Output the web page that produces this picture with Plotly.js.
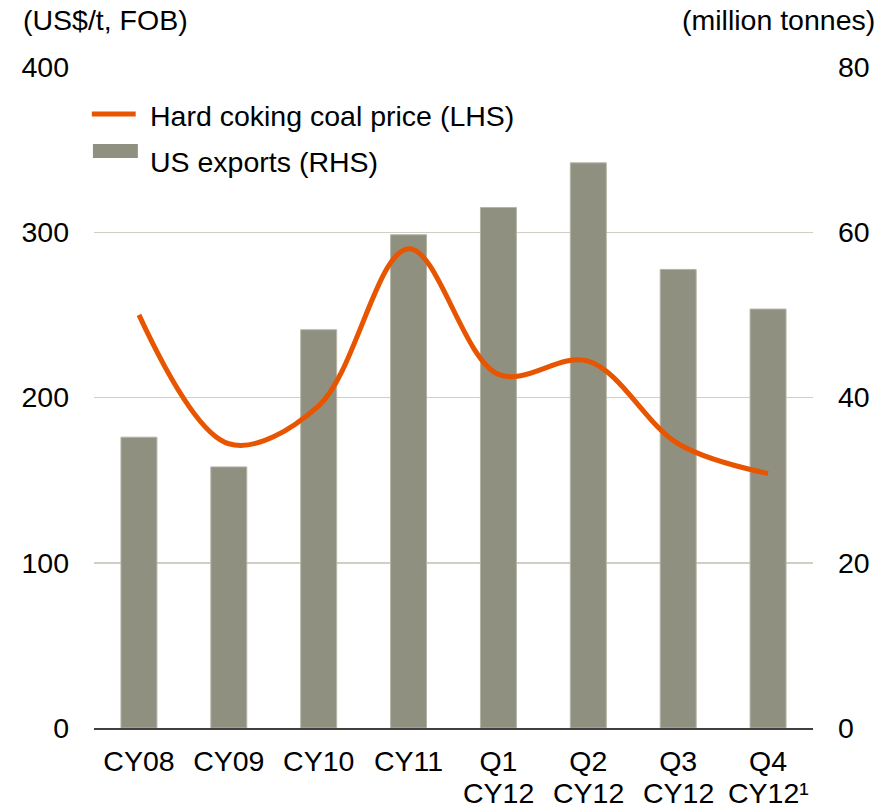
<!DOCTYPE html>
<html>
<head>
<meta charset="utf-8">
<script src="https://cdn.plot.ly/plotly-3.0.1.min.js"></script>
<style>html,body{margin:0;padding:0;background:#fff;}#chart{width:893px;height:809px;}</style>
</head>
<body>
<div id="chart"></div>
<script>
const categories = ["CY08", "CY09", "CY10", "CY11", "Q1 CY12", "Q2 CY12", "Q3 CY12", "Q4 CY12\u00b9"];
const tickLine1 = ["CY08", "CY09", "CY10", "CY11", "Q1", "Q2", "Q3", "Q4"];
const tickLine2 = ["", "", "", "", "CY12", "CY12", "CY12", "CY12\u00b9"];
const usExports = [35.2, 31.6, 48.2, 59.7, 63.0, 68.4, 55.5, 50.7];
const cokingPrice = [250, 172, 195, 290, 214, 222, 172, 154];
const leftTicks = [0, 100, 200, 300, 400];
const rightTicks = [0, 20, 40, 60, 80];

const FONT = "Liberation Sans, Arial, sans-serif";
const FS = 28.5;
const BAR_COLOR = "#909080";
const LINE_COLOR = "#E85500";

const traces = [
  {
    type: "bar",
    name: "US exports (RHS)",
    x: categories,
    y: usExports,
    yaxis: "y",
    width: 0.4,
    marker: {color: BAR_COLOR, line: {color: "#b4b4a6", width: 1}},
    showlegend: false,
    hoverinfo: "x+y"
  },
  {
    type: "scatter",
    mode: "lines",
    name: "Hard coking coal price (LHS)",
    x: categories,
    y: cokingPrice,
    yaxis: "y2",
    line: {color: LINE_COLOR, width: 5, shape: "spline", smoothing: 1},
    showlegend: false,
    hoverinfo: "x+y"
  }
];

const annotations = [
  {xref: "paper", yref: "paper", x: 0.075, y: 0.926, xanchor: "left", yanchor: "middle",
   text: "Hard coking coal price (LHS)", showarrow: false, font: {family: FONT, size: FS, color: "#000"}},
  {xref: "paper", yref: "paper", x: 0.075, y: 0.857, xanchor: "left", yanchor: "middle",
   text: "US exports (RHS)", showarrow: false, font: {family: FONT, size: FS, color: "#000"}},
  {xref: "paper", yref: "paper", x: -0.1015, y: 1.071, xanchor: "left", yanchor: "middle",
   text: "(US$/t, FOB)", showarrow: false, font: {family: FONT, size: FS, color: "#000"}},
  {xref: "paper", yref: "paper", x: 1.089, y: 1.071, xanchor: "right", yanchor: "middle",
   text: "(million tonnes)", showarrow: false, font: {family: FONT, size: FS, color: "#000"}}
];
categories.forEach((c, i) => {
  if (tickLine2[i]) {
    annotations.push({xref: "x", yref: "paper", x: c, y: -0.0985, xanchor: "center", yanchor: "middle",
      borderpad: 0, text: tickLine2[i], showarrow: false, font: {family: FONT, size: FS, color: "#000"}});
  }
});

const layout = {
  width: 893,
  height: 809,
  margin: {l: 94, r: 80, t: 67, b: 81},
  paper_bgcolor: "#ffffff",
  plot_bgcolor: "#ffffff",
  font: {family: FONT, size: FS, color: "#000000"},
  showlegend: false,
  xaxis: {
    type: "category",
    tickmode: "array",
    tickvals: categories,
    ticktext: tickLine1,
    showgrid: false,
    showline: true,
    linecolor: "#404040",
    linewidth: 1.5,
    ticks: "",
    ticklabelstandoff: 7,
    tickfont: {family: FONT, size: FS, color: "#000"},
    zeroline: false
  },
  yaxis: {
    side: "right",
    range: [0, 80],
    tickmode: "array",
    tickvals: rightTicks,
    ticktext: rightTicks.map(String),
    showgrid: true,
    gridcolor: "#cfcfc6",
    gridwidth: 1.5,
    zeroline: false,
    showline: false,
    ticks: "",
    ticklabelstandoff: 24,
    tickfont: {family: FONT, size: FS, color: "#000"}
  },
  yaxis2: {
    side: "left",
    overlaying: "y",
    range: [0, 400],
    tickmode: "array",
    tickvals: leftTicks,
    ticktext: leftTicks.map(String),
    showgrid: false,
    zeroline: false,
    showline: false,
    ticks: "",
    ticklabelstandoff: 24,
    tickfont: {family: FONT, size: FS, color: "#000"}
  },
  shapes: [
    {type: "line", xref: "paper", yref: "paper", x0: -0.003, x1: 0.058, y0: 0.929, y1: 0.929,
     line: {color: LINE_COLOR, width: 5}},
    {type: "rect", xref: "paper", yref: "paper", x0: -0.0015, x1: 0.061, y0: 0.8625, y1: 0.8835,
     fillcolor: BAR_COLOR, line: {width: 0}}
  ],
  annotations: annotations
};

Plotly.newPlot("chart", traces, layout, {displayModeBar: false, staticPlot: true});
</script>
</body>
</html>
